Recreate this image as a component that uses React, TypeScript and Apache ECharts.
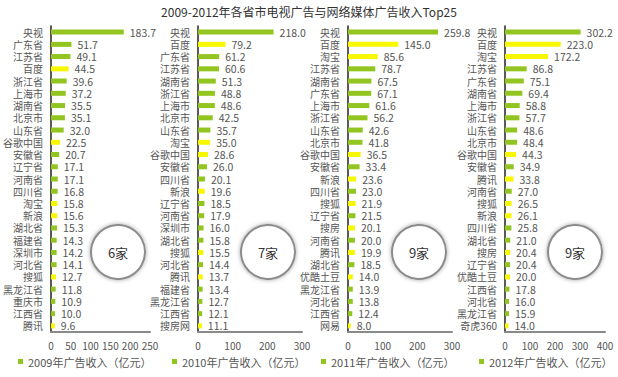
import React, { useEffect, useRef } from "react";
import * as echarts from "echarts";

const cats2009 = ["央视","广东省","江苏省","百度","浙江省","上海市","湖南省","北京市","山东省","谷歌中国","安徽省","辽宁省","河南省","四川省","淘宝","新浪","湖北省","福建省","深圳市","河北省","搜狐","黑龙江省","重庆市","江西省","腾讯"];
const vals2009 = [183.7,51.7,49.1,44.5,39.6,37.2,35.5,35.1,32.0,22.5,20.7,17.1,17.1,16.8,15.8,15.6,15.3,14.3,14.2,14.1,12.7,11.8,10.9,10.0,9.6];

const cats2010 = ["央视","百度","广东省","江苏省","湖南省","浙江省","上海市","北京市","山东省","淘宝","谷歌中国","安徽省","四川省","新浪","辽宁省","河南省","深圳市","湖北省","搜狐","河北省","腾讯","福建省","黑龙江省","江西省","搜房网"];
const vals2010 = [218.0,79.2,61.2,60.6,51.3,48.8,48.6,42.5,35.7,35.0,28.6,26.0,20.1,19.6,18.5,17.9,16.0,15.8,15.5,14.4,13.7,13.4,12.7,12.1,11.1];

const cats2011 = ["央视","百度","淘宝","江苏省","湖南省","广东省","上海市","浙江省","山东省","北京市","谷歌中国","安徽省","新浪","四川省","搜狐","辽宁省","搜房","河南省","腾讯","湖北省","优酷土豆","黑龙江省","河北省","江西省","网易"];
const vals2011 = [259.8,145.0,85.6,78.7,67.5,67.1,61.6,56.2,42.6,41.8,36.5,33.4,23.6,23.0,21.9,21.5,20.1,20.0,19.9,18.5,14.0,13.9,13.8,12.4,8.0];

const cats2012 = ["央视","百度","淘宝","江苏省","广东省","湖南省","上海市","浙江省","山东省","北京市","谷歌中国","安徽省","腾讯","河南省","搜狐","新浪","四川省","湖北省","搜房","辽宁省","优酷土豆","江西省","河北省","黑龙江省","奇虎360"];
const vals2012 = [302.2,223.0,172.2,86.8,75.1,69.4,58.8,57.7,48.6,48.4,44.3,34.9,33.8,27.0,26.5,26.1,25.8,21.0,20.4,20.4,20.0,17.8,16.0,15.9,14.0];

const internetCompanies = ["百度","谷歌中国","淘宝","新浪","搜狐","腾讯","搜房网","搜房","优酷土豆","网易","奇虎360"];
const seriesNames = ["2009年广告收入（亿元）","2010年广告收入（亿元）","2011年广告收入（亿元）","2012年广告收入（亿元）"];
const axisMax = [250, 300, 300, 400];
const axisInterval = [50, 100, 100, 100];
const countLabels = ["6家", "7家", "9家", "9家"];

const GREEN = "#92c51f";
const YELLOW = "#f7f700";
const FONT = "'Noto Sans CJK SC', 'Noto Sans', sans-serif";

export default function App() {
  const ref = useRef<HTMLDivElement>(null);
  useEffect(() => {
    if (!ref.current) return;
    const chart = echarts.init(ref.current, undefined, { renderer: "svg" });
    const cats = [cats2009, cats2010, cats2011, cats2012];
    const vals = [vals2009, vals2010, vals2011, vals2012];
    const gridLefts = [49, 198, 348, 505];
    const gridWidths = [101, 104, 104, 100];
    const legendLefts = [18, 172, 321, 479];
    const circleX = [118, 268, 419, 575];

    const grids = gridLefts.map((l, i) => ({ left: l, width: gridWidths[i], top: 26, height: 306 }));
    const xAxes = gridLefts.map((_, i) => ({
      type: "value", gridIndex: i, min: 0, max: axisMax[i], interval: axisInterval[i],
      splitLine: { show: false }, axisTick: { show: false },
      axisLine: { show: true, lineStyle: { color: "#8a8a8a", width: 2 } },
      axisLabel: { color: "#555", fontSize: 10, lineHeight: 12, fontFamily: FONT, margin: 7 },
    }));
    const yAxes = gridLefts.map((_, i) => ({
      type: "category", gridIndex: i, data: cats[i], inverse: true,
      axisTick: { show: false },
      axisLine: { show: true, lineStyle: { color: "#222", width: 1.5 } },
      axisLabel: { color: "#555", fontSize: 10, lineHeight: 12, fontFamily: FONT, margin: 8, interval: 0 },
    }));
    const series = gridLefts.map((_, i) => ({
      type: "bar", name: seriesNames[i], xAxisIndex: i, yAxisIndex: i, barWidth: 5,
      itemStyle: { color: GREEN },
      label: {
        show: true, position: "right", distance: 6, color: "#555", fontSize: 10.5, lineHeight: 12, fontFamily: FONT,
        formatter: (p: any) => Number(p.value).toFixed(1),
      },
      data: vals[i].map((v, j) => ({ value: v, itemStyle: { color: internetCompanies.includes(cats[i][j]) ? YELLOW : GREEN } })),
    }));
    const legends = seriesNames.map((n, i) => ({
      data: [n], left: legendLefts[i], top: 356, padding: 0, icon: "rect", itemWidth: 5, itemHeight: 5,
      textStyle: { color: "#555", fontSize: 11, fontFamily: FONT },
    }));
    const graphics: any[] = [];
    circleX.forEach((cx, i) => {
      graphics.push({
        type: "circle", shape: { cx, cy: 252, r: 27 },
        style: { fill: "#fff", stroke: "#8c8c8c", lineWidth: 2, shadowBlur: 4, shadowColor: "rgba(0,0,0,0.35)" },
        z: 10,
      });
      graphics.push({
        type: "text", x: cx, y: 252, z: 11,
        style: { text: countLabels[i], fill: "#333", fontSize: 13, fontFamily: FONT, align: "center", verticalAlign: "middle" },
      });
    });

    chart.setOption({
      animation: false,
      backgroundColor: "#fff",
      title: { text: "2009-2012年各省市电视广告与网络媒体广告收入Top25", left: "center", top: 0, textStyle: { fontSize: 12, fontWeight: "normal", color: "#333", fontFamily: FONT } },
      grid: grids, xAxis: xAxes, yAxis: yAxes, series, legend: legends, graphic: graphics,
    } as any);
    return () => chart.dispose();
  }, []);
  return <div ref={ref} style={{ width: 618, height: 377, position: "absolute", left: 0, top: 0 }} />;
}
